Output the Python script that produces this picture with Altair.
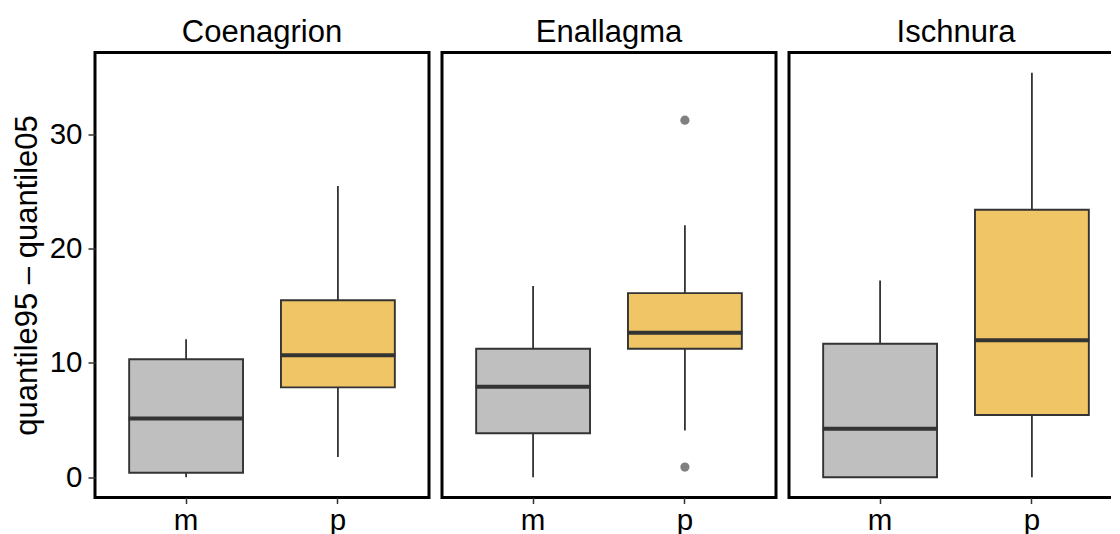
import altair as alt
import pandas as pd

# ---- data ----
genera = ["Coenagrion", "Enallagma", "Ischnura"]
groups = ["m", "p"]
# box statistics per genus, in the order of `groups`
lower_whisker = [[0.0, 1.78], [0.0, 4.09], [0.0, 0.0]]
q1 = [[0.39, 7.86], [3.85, 11.24], [0.0, 5.45]]
median = [[5.13, 10.67], [7.92, 12.63], [4.24, 11.98]]
q3 = [[10.32, 15.48], [11.24, 16.10], [11.68, 23.39]]
upper_whisker = [[12.07, 25.47], [16.72, 22.03], [17.20, 35.37]]
# outliers
outlier_genus = ["Enallagma", "Enallagma"]
outlier_group = ["p", "p"]
outlier_value = [31.22, 0.89]

y_ticks = [0, 10, 20, 30]
fill_colors = ["#BFBFBF", "#EFC566"]
y_title = "quantile95 \u2013 quantile05"

rows = []
for gi, g in enumerate(genera):
    for ki, k in enumerate(groups):
        rows.append(dict(genus=g, group=k, lo=lower_whisker[gi][ki], q1=q1[gi][ki],
                         med=median[gi][ki], q3=q3[gi][ki], hi=upper_whisker[gi][ki]))
stats = pd.DataFrame(rows)
outliers = pd.DataFrame(dict(genus=outlier_genus, group=outlier_group, value=outlier_value))

all_vals = list(stats.lo) + list(stats.hi) + outlier_value
vmin, vmax = min(all_vals), max(all_vals)
pad = 0.05 * (vmax - vmin)
ydomain = [vmin - pad, vmax + pad]

FONT = "Liberation Sans"
W, H = 334, 445

xscale = alt.Scale(domain=groups, paddingInner=0.25, paddingOuter=0.225)
yscale = alt.Scale(domain=ydomain, nice=False, zero=False)
cscale = alt.Scale(domain=groups, range=fill_colors)


def panel(i, g):
    d = stats[stats.genus == g]
    o = outliers[outliers.genus == g]
    if i == 0:
        yaxis = alt.Axis(values=y_ticks, title=y_title, labelPadding=6, titlePadding=6,
                         tickSize=7)
    else:
        yaxis = None
    x = alt.X("group:N", scale=xscale,
              axis=alt.Axis(title=None, labelAngle=0, labelPadding=3, tickSize=6))

    def Y(f):
        return alt.Y(f, type="quantitative", scale=yscale, axis=yaxis)

    base = alt.Chart(d)
    w_hi = base.mark_rule(color="#333333", strokeWidth=1.8).encode(x=x, y=Y("q3"), y2="hi:Q")
    w_lo = base.mark_rule(color="#333333", strokeWidth=1.8).encode(x=x, y=Y("lo"), y2="q1:Q")
    box = base.mark_bar(stroke="#333333", strokeWidth=1.9, opacity=1).encode(
        x=x, y=Y("q1"), y2="q3:Q",
        color=alt.Color("group:N", scale=cscale, legend=None))
    med = base.mark_tick(color="#333333", thickness=4, size=115, opacity=1).encode(
        x=x, y=Y("med"))
    layers = [w_hi, w_lo, box, med]
    if len(o):
        pts = alt.Chart(o).mark_circle(color="#808080", size=85, opacity=1).encode(
            x=x, y=Y("value"))
        layers.append(pts)
    return alt.layer(*layers).properties(
        width=W, height=H,
        title=alt.TitleParams(g, font=FONT, fontSize=31, fontWeight="normal", color="black",
                              anchor="middle", baseline="alphabetic", offset=-20))


chart = alt.hconcat(*[panel(i, g) for i, g in enumerate(genera)], spacing=13, bounds="flush")
chart = chart.properties(
    padding={"left": 1, "top": 6.5, "right": -14, "bottom": 0}, background="white"
).configure_view(
    stroke="black", strokeWidth=3
).configure_axis(
    domain=False, grid=False, tickColor="#333333", tickWidth=1.5,
    labelFont=FONT, labelFontSize=29.5, labelColor="black",
    titleFont=FONT, titleFontSize=31, titleFontWeight="normal", titleColor="black",
)

chart.save("out.html", embed_options={"renderer": "svg", "actions": False})
